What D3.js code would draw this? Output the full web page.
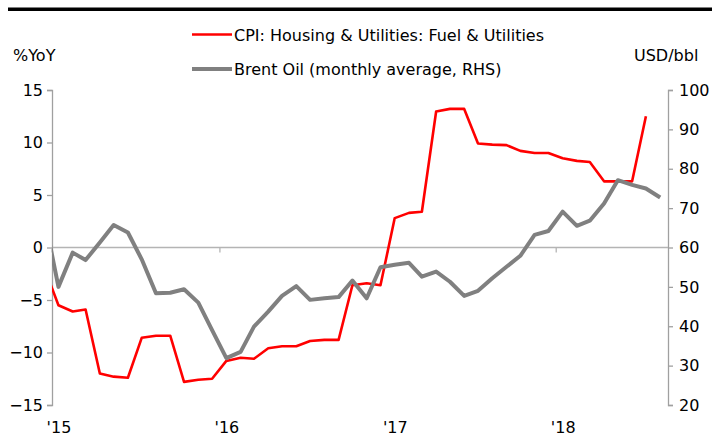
<!DOCTYPE html>
<html>
<head>
<meta charset="utf-8">
<script src="https://cdn.jsdelivr.net/npm/d3@7"></script>
<style>
  body { margin: 0; background: #fff; }
  svg { display: block; }
  text { font-family: "DejaVu Sans", sans-serif; font-size: 16px; fill: #000; }
</style>
</head>
<body>
<div id="chart"></div>
<script>
const WIDTH = 712;
const HEIGHT = 439;

// monthly, Dec 2014 .. Aug 2018 (first point sits outside the plot and is clipped)
const months = d3.timeMonths(new Date(2014, 11, 1), new Date(2018, 8, 1));

const cpiFuel = [
  -1.9,
  -5.5, -6.1, -5.9, -12.0, -12.3, -12.4, -8.6, -8.4, -8.4, -12.8, -12.6, -12.5,
  -10.8, -10.5, -10.6, -9.6, -9.4, -9.4, -8.9, -8.8, -8.8, -3.6, -3.4, -3.6,
  2.8, 3.3, 3.4, 12.95, 13.2, 13.2, 9.9, 9.8, 9.75, 9.2, 9.0, 9.0,
  8.5, 8.25, 8.15, 6.3, 6.3, 6.3, 12.5
];

const brent = [
  68.0,
  50.0, 58.7, 56.8, 61.3, 65.7, 63.8, 57.0, 48.4, 48.5, 49.4, 46.0, 39.0,
  31.9, 33.5, 39.9, 43.7, 47.7, 50.2, 46.7, 47.1, 47.4, 51.6, 47.1, 55.0,
  55.6, 56.1, 52.6, 53.9, 51.3, 47.7, 49.0, 52.2, 55.1, 57.9, 63.2, 64.2,
  69.1, 65.5, 66.8, 71.2, 77.1, 75.9, 75.0, 72.7
];

const leftTicks = [-15, -10, -5, 0, 5, 10, 15];
const rightTicks = [20, 30, 40, 50, 60, 70, 80, 90, 100];
const yearTicks = [2015, 2016, 2017, 2018];

const seriesNames = [
  'CPI: Housing & Utilities: Fuel & Utilities',
  'Brent Oil (monthly average, RHS)'
];

const margin = { left: 52, right: 44, top: 90, bottom: 34 };
const plotRight = WIDTH - margin.right;
const plotBottom = HEIGHT - margin.bottom;

const x = d3.scaleTime()
  .domain([new Date(2015, 0, 1), new Date(2018, 8, 1)])
  .range([margin.left, plotRight]);

// points are drawn mid-month
const xMid = d => x(d3.timeDay.offset(d, 14));

const yLeft = d3.scaleLinear().domain([-15, 15]).range([plotBottom, margin.top]);
const yRight = d3.scaleLinear().domain([20, 100]).range([plotBottom, margin.top]);

const svg = d3.select('#chart').append('svg')
  .attr('width', WIDTH)
  .attr('height', HEIGHT);

svg.append('defs').append('clipPath')
  .attr('id', 'plot-clip')
  .append('rect')
  .attr('x', margin.left)
  .attr('y', 0)
  .attr('width', plotRight - margin.left)
  .attr('height', HEIGHT);

// top rule
svg.append('rect')
  .attr('x', 8).attr('y', 7.5)
  .attr('width', WIDTH - 8).attr('height', 3.5)
  .attr('fill', '#000');

// left axis
const leftAxis = svg.append('g')
  .attr('transform', `translate(${margin.left},0)`)
  .call(d3.axisLeft(yLeft).tickValues(leftTicks).tickSize(5).tickPadding(4));

// right axis
const rightAxis = svg.append('g')
  .attr('transform', `translate(${plotRight},0)`)
  .call(d3.axisRight(yRight).tickValues(rightTicks).tickSize(5).tickPadding(6));

[leftAxis, rightAxis].forEach(g => {
  g.select('.domain').attr('stroke', '#a0a0a0').attr('stroke-width', 1.3);
  g.selectAll('.tick line').attr('stroke', '#a0a0a0').attr('stroke-width', 1.3);
  g.selectAll('.tick text')
    .attr('font-family', '"DejaVu Sans", sans-serif')
    .attr('font-size', 16)
    .attr('fill', '#000');
  g.attr('font-family', null).attr('font-size', null);
});

// zero line with year ticks
const zeroY = yLeft(0);
svg.append('line')
  .attr('x1', margin.left).attr('x2', plotRight)
  .attr('y1', zeroY).attr('y2', zeroY)
  .attr('stroke', '#b4b4b4')
  .attr('stroke-width', 1.5);

svg.selectAll('line.year-tick')
  .data(yearTicks)
  .join('line')
  .attr('class', 'year-tick')
  .attr('x1', d => x(new Date(d, 0, 1)))
  .attr('x2', d => x(new Date(d, 0, 1)))
  .attr('y1', zeroY)
  .attr('y2', zeroY + 5)
  .attr('stroke', '#b4b4b4')
  .attr('stroke-width', 1.3);

svg.selectAll('text.year')
  .data(yearTicks)
  .join('text')
  .attr('class', 'year')
  .attr('x', d => x(new Date(d, 0, 1)) + 7)
  .attr('y', 433)
  .attr('text-anchor', 'middle')
  .text(d => `'${String(d).slice(2)}`);

// axis titles
svg.append('text').attr('x', 13).attr('y', 61).text('%YoY');
svg.append('text').attr('x', 634).attr('y', 61).text('USD/bbl');

// lines
const plot = svg.append('g').attr('clip-path', 'url(#plot-clip)');

const cpiLine = d3.line()
  .x((d, i) => xMid(months[i]))
  .y(d => yLeft(d));

const brentLine = d3.line()
  .x((d, i) => xMid(months[i]))
  .y(d => yRight(d));

plot.append('path')
  .datum(cpiFuel)
  .attr('d', cpiLine)
  .attr('fill', 'none')
  .attr('stroke', '#ff0000')
  .attr('stroke-width', 2.6)
  .attr('stroke-linejoin', 'round');

plot.append('path')
  .datum(brent)
  .attr('d', brentLine)
  .attr('fill', 'none')
  .attr('stroke', '#808080')
  .attr('stroke-width', 4)
  .attr('stroke-linejoin', 'round');

// legend
const legend = svg.append('g');
const legendItems = [
  { name: seriesNames[0], color: '#ff0000', width: 2.6, y: 34.5 },
  { name: seriesNames[1], color: '#808080', width: 4, y: 69 }
];

legendItems.forEach(item => {
  legend.append('line')
    .attr('x1', 192).attr('x2', 232)
    .attr('y1', item.y).attr('y2', item.y)
    .attr('stroke', item.color)
    .attr('stroke-width', item.width);
  legend.append('text')
    .attr('x', 234)
    .attr('y', item.y + 6)
    .text(item.name);
});
</script>
</body>
</html>
